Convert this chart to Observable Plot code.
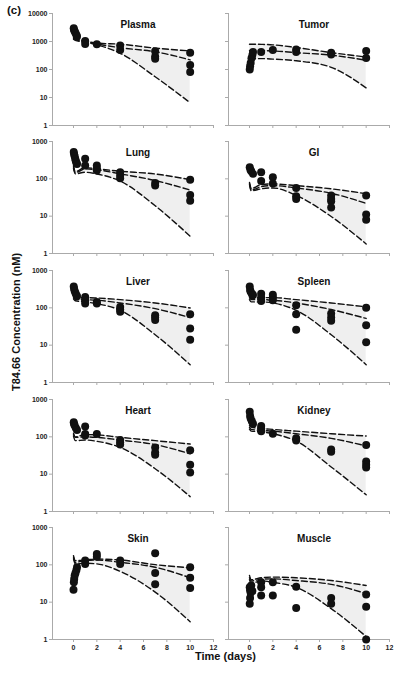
<!DOCTYPE html>
<html><head><meta charset="utf-8">
<script src="https://cdn.jsdelivr.net/npm/d3@7"></script>
<script src="https://cdn.jsdelivr.net/npm/@observablehq/plot@0.6"></script>
<style>
body{margin:0;background:#fff;}
#fig{position:relative;width:400px;height:676px;font-family:"Liberation Sans",Arial,sans-serif;overflow:hidden;}
#fig svg{position:absolute;}
.lbl{position:absolute;font-weight:bold;color:#111;white-space:nowrap;line-height:1;}
</style></head><body><div id="fig"></div>
<script>
const tissues = ["Plasma","Tumor","Lung","GI","Liver","Spleen","Heart","Kidney","Skin","Muscle"];
const yMaxima = [10000,10000,1000,1000,1000,1000,1000,1000,1000,1000];
const xTicks = [0,2,4,6,8,10,12];
const yTickValues = [1,10,100,1000,10000];
const simTimes = [0,0.15,1,2,4,7,10];
const upperBound = [
  [1400,1300,1050,880,800,580,460],
  [800,800,790,760,610,400,280],
  [230,155,200,185,160,135,95],
  [80,55,70,73,66,54,40],
  [215,185,188,183,166,135,99],
  [200,176,188,188,166,135,106],
  [125,100,115,113,97,79,64],
  [200,182,168,158,142,121,105],
  [176,130,135,143,135,101,83],
  [52,40,45,47,45,38,28]
];
const medianLine = [
  [1300,1200,1000,820,600,430,220],
  [470,470,470,460,400,325,215],
  [210,145,185,175,136,90,50],
  [75,50,62,66,57,41,22],
  [195,170,166,160,135,95,55],
  [185,166,166,160,135,90,52],
  [115,97,100,97,82,62,35],
  [180,158,149,142,121,91,57],
  [160,117,130,135,117,86,45],
  [45,37,41,42,38,30,17]
];
const lowerBound = [
  [1200,1100,950,760,380,55,6.5],
  [240,240,245,235,205,120,22],
  [190,136,150,135,87,19,2.9],
  [70,48,54,57,36,9.8,1.8],
  [175,155,144,130,86,19,3],
  [165,144,144,135,86,19,3],
  [105,79,82,76,52,14,2.5],
  [160,142,137,121,77,15.6,2.8],
  [145,106,110,106,67,18.6,3],
  [40,32,37,34,25,6.7,1.2]
];
const obsTimes = [
  [0.02,0.05,0.1,0.17,0.25,0.3,1,1,2,4,4,7,7,7,10,10,10],
  [0.02,0.05,0.1,0.17,0.25,0.3,1,2,4,4,7,7,10,10],
  [0.02,0.05,0.1,0.15,0.2,0.25,0.3,1,1,2,2,2,4,4,4,7,7,10,10,10],
  [0.02,0.08,0.15,0.3,1,1,2,2,4,4,4,7,7,7,7,10,10,10],
  [0.02,0.05,0.1,0.17,0.25,0.3,1,1,1,2,2,4,4,4,7,7,7,10,10,10],
  [0.02,0.05,0.1,0.2,0.3,1,1,1,2,2,2,4,4,4,7,7,7,10,10,10],
  [0.02,0.05,0.1,0.2,0.3,1,1,1,2,4,4,4,7,7,7,10,10,10],
  [0.02,0.05,0.1,0.2,0.3,1,1,1,2,4,4,7,7,10,10,10,10],
  [0,0.03,0.06,0.1,0.17,0.25,0.3,1,1,2,2,4,4,7,7,7,10,10,10],
  [0.02,0.02,0.05,0.05,0.1,0.15,0.25,1,1,1,2,2,4,4,7,7,10,10,10]
];
const obsConc = [
  [3000,2600,2300,2000,1700,1500,1050,820,800,720,500,450,290,240,400,145,82],
  [100,130,170,250,330,420,420,500,520,420,400,340,460,260],
  [520,460,400,340,300,270,250,345,228,228,193,167,150,123,104,77,66,94,37,26],
  [205,174,160,136,150,87,110,75,57,34,29,36,29,25,17,36,11,8],
  [375,325,282,250,216,204,195,160,130,143,130,106,90,78,63,55,47,67,28,14],
  [375,300,270,240,220,240,188,153,225,188,160,117,67,26,70,55,45,100,34,12],
  [246,222,200,173,153,188,120,108,120,82,71,62,52,38,33,44,18,11],
  [470,360,310,263,224,194,168,142,121,91,80,46,40,60,22,18,15],
  [21.5,34,42,52,60,73,86,130,106,195,165,130,106,204,60,30,86,45,24],
  [25,9,21,13,18,28,20,34,25,15,34,15,26,7,13,9,16,7.5,1]
];

const fig = document.getElementById("fig");
const rowTops = [7,135,264,393,521];
const font = '"Liberation Sans", Arial, sans-serif';

tissues.forEach((name, i) => {
  const col = i % 2, row = Math.floor(i / 2);
  const last = row === 4;
  const yMax = yMaxima[i];
  const curve = simTimes.map((t, k) => ({t, upper: upperBound[i][k], median: medianLine[i][k], lower: lowerBound[i][k]}));
  const obs = obsTimes[i].map((t, k) => ({t, c: obsConc[i][k]}));
  const plot = Plot.plot({
    width: 215,
    height: last ? 142 : 124,
    marginLeft: 52, marginRight: 2, marginTop: 6, marginBottom: last ? 24 : 6,
    style: {background: "transparent", fontFamily: font, fontWeight: "bold", overflow: "visible"},
    x: {domain: [-1.8, 12]},
    y: {type: "log", domain: [1, yMax]},
    marks: [
      Plot.areaY(curve, {x: "t", y1: "lower", y2: "upper", fill: "#efefef", curve: "monotone-x"}),
      Plot.ruleX([-1.8], {stroke: "#aaa"}),
      Plot.ruleY([1], {stroke: "#aaa"}),
      Plot.axisY({ticks: yTickValues.filter(v => v <= yMax), tickFormat: col === 0 ? (d => String(d)) : (() => ""),
        tickSize: 3, tickPadding: 2, fontSize: 7, stroke: "#aaa", fill: "#222", label: null}),
      Plot.axisX({ticks: xTicks, tickFormat: last ? (d => String(d)) : (() => ""),
        tickSize: 3, tickPadding: 3, fontSize: 7, stroke: "#aaa", fill: "#222", label: null}),
      ...["upper", "median", "lower"].map(k => Plot.line(curve, {x: "t", y: k, stroke: "#111", strokeWidth: 1.4, strokeDasharray: "6,3", curve: "monotone-x"})),
      Plot.dot(obs, {x: "t", y: "c", r: 4, fill: "#111"}),
      Plot.text([name], {text: d => d, frameAnchor: "top", lineAnchor: "middle", dy: 11, dx: 5, fontSize: 10, fill: "#111"})
    ]
  });
  plot.style.left = (col ? 176 : 0) + "px";
  plot.style.top = rowTops[row] + "px";
  fig.appendChild(plot);
});

function addLabel(text, css) {
  const d = document.createElement("div");
  d.className = "lbl";
  d.textContent = text;
  Object.assign(d.style, css);
  fig.appendChild(d);
  return d;
}
addLabel("(c)", {left: "7px", top: "5px", fontSize: "11.5px"});
addLabel("Time (days)", {left: "195px", top: "651px", fontSize: "11px"});
const yt = addLabel("T84.66 Concentration (nM)", {left: "16px", top: "322px", fontSize: "11px", transform: "translate(-50%,-50%) rotate(-90deg)"});
</script></body></html>
